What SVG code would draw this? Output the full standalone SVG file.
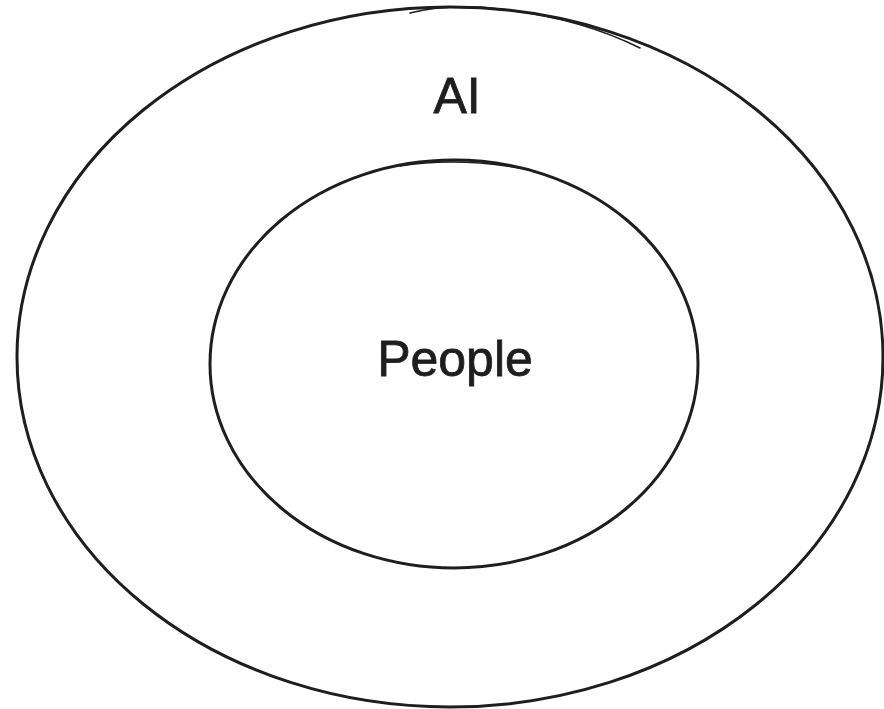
<svg xmlns="http://www.w3.org/2000/svg" width="884" height="709" viewBox="0 0 884 709">
  <style>
    .shape { fill: none; stroke: #1e1e1e; stroke-width: 3; stroke-linecap: round; }
    .sketch { fill: none; stroke: #1e1e1e; stroke-width: 1.6; stroke-linecap: round; }
    .label { font-family: "Liberation Sans", Arial, sans-serif; fill: #1e1e1e; text-anchor: middle; stroke: #1e1e1e; stroke-width: 0.8; }
  </style>
  <rect width="884" height="709" fill="#ffffff"/>
  <g id="outer-ai">
    <ellipse class="shape" cx="450" cy="357" rx="433" ry="350"/>
    <path class="sketch" d="M 410 13 Q 450 3 500 9 Q 580 18 640 48"/>
    <text class="label" x="457" y="113" font-size="50">AI</text>
  </g>
  <g id="inner-people">
    <ellipse class="shape" cx="454" cy="364" rx="244" ry="204"/>
    <path class="sketch" d="M 400 166 Q 455 157 520 168"/>
    <text class="label" x="455" y="376" font-size="50">People</text>
  </g>
  <g id="connectors"></g>
</svg>
